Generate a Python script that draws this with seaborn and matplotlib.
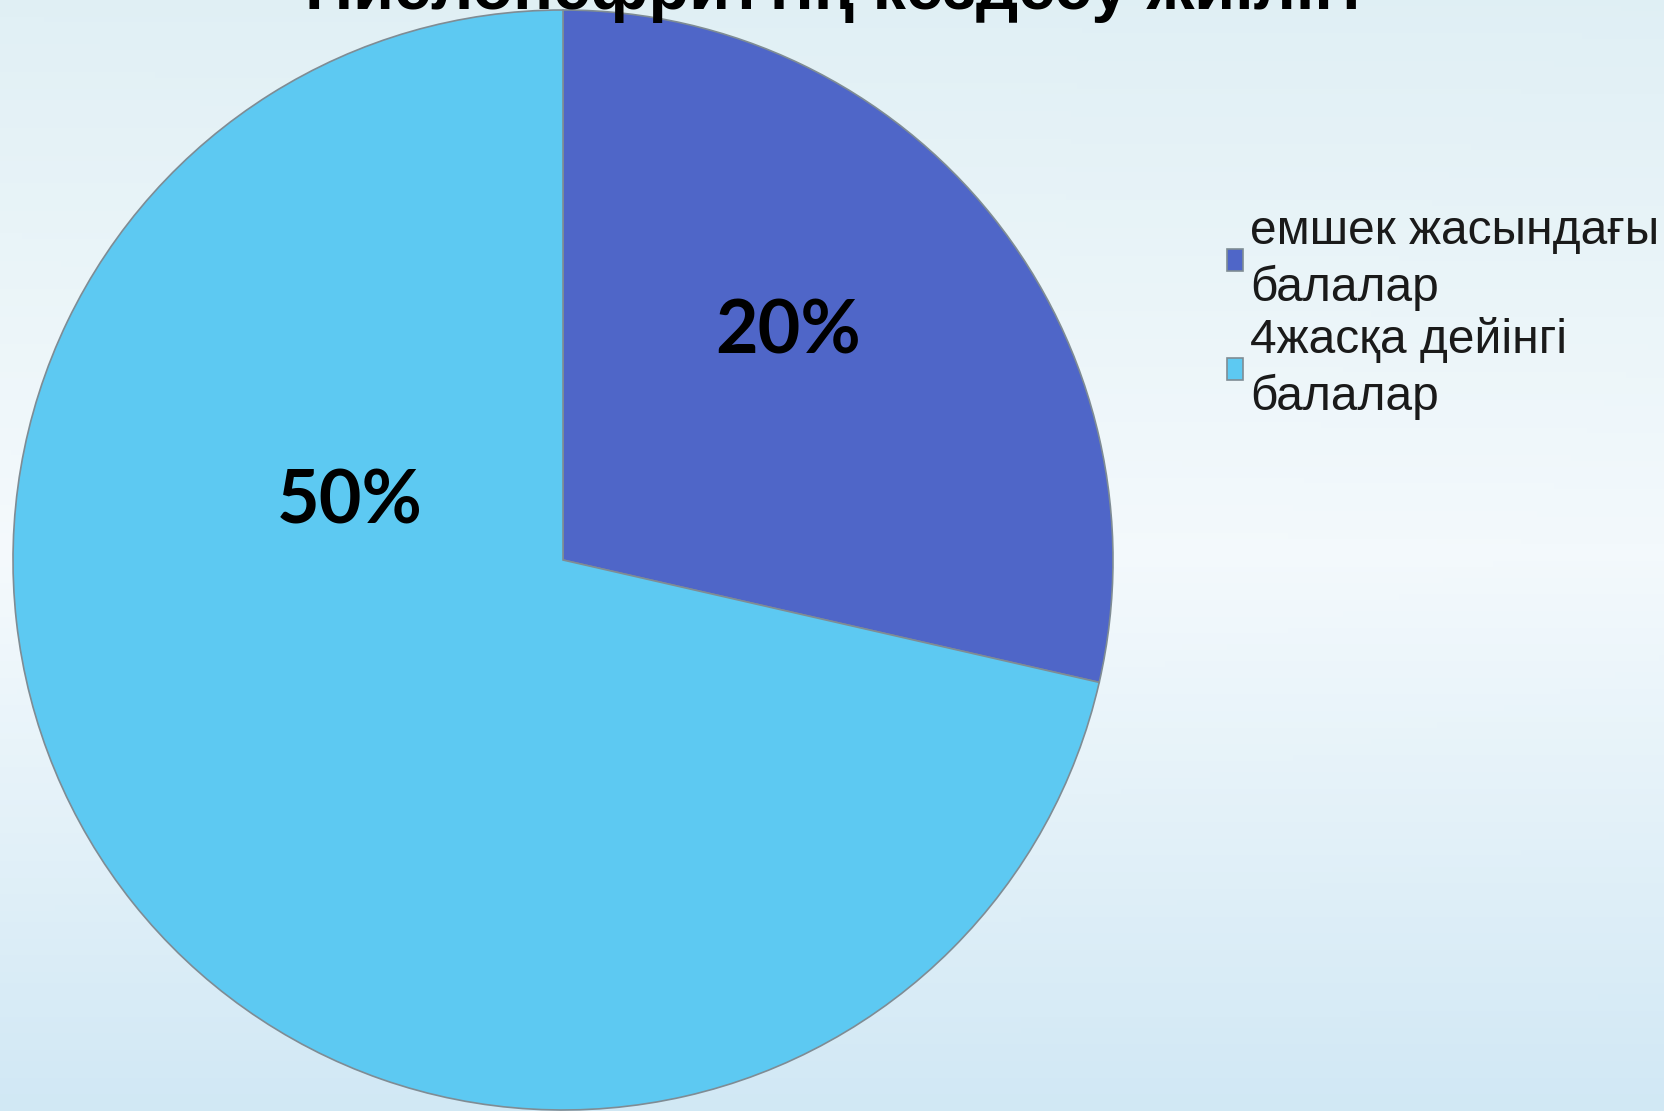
import numpy as np
import matplotlib
matplotlib.use("Agg")
import matplotlib.pyplot as plt
import seaborn as sns

sns.set_theme(style="white")
plt.rcParams['font.family'] = ['Liberation Sans', 'DejaVu Sans']

categories = ["емшек жасындағы\nбалалар", "4жасқа дейінгі\nбалалар"]
values = [20, 50]
value_labels = ["20%", "50%"]
colors = ["#4F66C8", "#5DC9F2"]
title = "Пиелонефриттің кездесу жиілігі"

W, H = 1665, 1111
fig = plt.figure(figsize=(W / 100, H / 100), dpi=100)

# background gradient
bg = fig.add_axes([0, 0, 1, 1])
yy, xx = np.mgrid[0:1:200j, 0:1:300j]
c_top = np.array([0.88, 0.94, 0.96])
c_mid = np.array([0.96, 0.98, 0.99])
c_bot = np.array([0.82, 0.91, 0.96])
t = yy[..., None]
img = np.where(t < 0.5, c_top + (c_mid - c_top) * (t / 0.5), c_mid + (c_bot - c_mid) * ((t - 0.5) / 0.5))
img = img * (1 - 0.04 * xx[..., None]) + 0.04 * xx[..., None] * np.array([0.82, 0.91, 0.96])
bg.imshow(np.clip(img, 0, 1), aspect="auto", extent=[0, 1, 1, 0])
bg.set_axis_off()

# pie axes
cx, cy, r = 563, 560, 550
ax = fig.add_axes([(cx - r) / W, (H - cy - r) / H, 2 * r / W, 2 * r / H])
wedges, _ = ax.pie(values, colors=colors, startangle=90, counterclock=False,
                   radius=1.0, wedgeprops=dict(edgecolor="#7f8c94", linewidth=1.2))
ax.set_xlim(-1, 1)
ax.set_ylim(-1, 1)
ax.set_aspect("equal")
ax.set_axis_off()

label_pos = [(0.41, 0.415), (-0.387, 0.105)]
for (x, y), lab in zip(label_pos, value_labels):
    ax.text(x, y, lab, ha="center", va="center", fontsize=53, fontweight="bold",
            family=["Lato", "DejaVu Sans"], color="black")

leg = fig.legend(wedges, categories, loc="upper left", bbox_to_anchor=(1227 / W, 1 - 209 / H),
                 frameon=False, fontsize=34.5, handlelength=0.33, handleheight=0.33,
                 handletextpad=0.15, labelspacing=0.12, borderaxespad=0, borderpad=0)
for txt in leg.get_texts():
    txt.set_color("#1a1a1a")
    txt.set_linespacing(1.3)

fig.text(0.5, 1 + 8 / H, title, ha="center", va="center", fontsize=48,
         fontweight="bold", family=["Liberation Sans", "DejaVu Sans"], color="black")

fig.savefig("out.png", dpi=100)
